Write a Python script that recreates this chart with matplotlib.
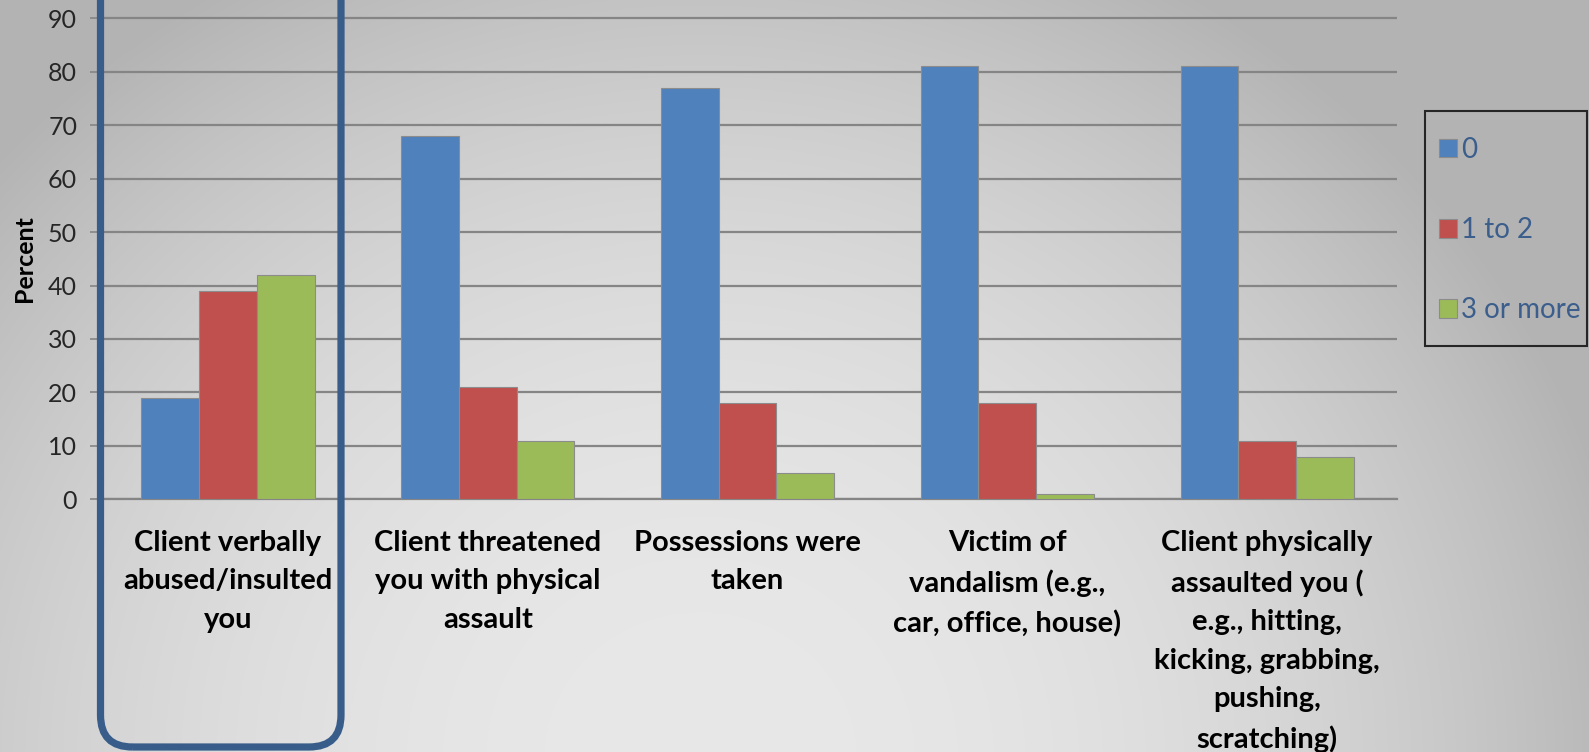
import numpy as np
import matplotlib
matplotlib.use("Agg")
import matplotlib.pyplot as plt
from matplotlib.patches import FancyBboxPatch, Rectangle
from matplotlib.transforms import IdentityTransform

plt.rcParams['font.family'] = ['Lato', 'DejaVu Sans']

# ---- data ----
categories = [
    "Client verbally\nabused/insulted\nyou",
    "Client threatened\nyou with physical\nassault",
    "Possessions were\ntaken",
    "Victim of\nvandalism (e.g.,\ncar, office, house)",
    "Client physically\nassaulted you (\ne.g., hitting,\nkicking, grabbing,\npushing,\nscratching)",
]
series_names = ["0", "1 to 2", "3 or more"]
vals_0 = [19, 68, 77, 81, 81]
vals_1to2 = [39, 21, 18, 18, 11]
vals_3plus = [42, 11, 5, 1, 8]
y_ticks = [0, 10, 20, 30, 40, 50, 60, 70, 80, 90]

colors = ["#4F81BD", "#C0504D", "#9BBB59"]

W, H = 1589, 752
fig = plt.figure(figsize=(W / 100, H / 100), dpi=100)

# ---- soft grey vignette background ----
yy, xx = np.mgrid[0:H, 0:W]
d = np.sqrt(((xx - 700) / 950.0) ** 2 + ((yy - 760) / 900.0) ** 2)
t = np.clip(d, 0, 1) ** 2.2
light, dark = 0xE8 / 255, 0xB3 / 255
g = light - (light - dark) * t
bg = np.dstack([g, g, g])
fig.figimage(bg, xo=0, yo=0, origin='upper', zorder=-10)

# ---- axes ----
ax_left, ax_right = 98 / W, 1397 / W
ax_bottom = (H - 499.3) / H
ax_height = 534.5 / H
ax = fig.add_axes([ax_left, ax_bottom, ax_right - ax_left, ax_height])
ax.set_facecolor('none')
ax.set_zorder(1)

x = np.arange(len(categories))
bw = 1 / 4.5
all_series = [vals_0, vals_1to2, vals_3plus]
handles = []
for i, (vals, c, name) in enumerate(zip(all_series, colors, series_names)):
    b = ax.bar(x + (i - 1) * bw, vals, width=bw, color=c, edgecolor='#8c8c8c',
               linewidth=0.8, label=name, zorder=3)
    handles.append(b)

ax.set_xlim(-0.5, len(categories) - 0.5)
ax.set_ylim(0, 100)
ax.set_yticks(y_ticks)
ax.yaxis.grid(True, color='#858585', linewidth=1.6, zorder=1)
ax.set_axisbelow(True)
for s in ['top', 'right', 'left']:
    ax.spines[s].set_visible(False)
ax.spines['bottom'].set_color('#858585')
ax.spines['bottom'].set_linewidth(1.6)
ax.tick_params(axis='y', length=6, width=1.2, color='#858585', pad=9,
               labelsize=18, labelcolor='#262626')
ax.tick_params(axis='x', length=0, pad=22)
ax.set_xticks(x)
ax.set_xticklabels(categories, fontsize=21, fontweight='bold', color='black',
                   linespacing=1.59, va='top', ha='center')
ax.set_ylabel('Percent', fontsize=18, fontweight='bold', color='black')
ax.yaxis.set_label_coords((36 - 98) / 1299, (499.3 - 259) / 534.5)

# ---- legend ----
frame = Rectangle((1425, H - 346), 162, 235, transform=IdentityTransform(),
                  facecolor='none', edgecolor='#262626', linewidth=1.5,
                  zorder=5)
fig.add_artist(frame)
leg = fig.legend(handles=handles, labels=series_names, loc='center left',
                 bbox_to_anchor=(1439 / W, 1 - 230 / H), frameon=False,
                 fontsize=20, handlelength=0.65, handleheight=0.65,
                 handletextpad=0.15, labelspacing=1.95, borderpad=0,
                 borderaxespad=0, labelcolor='#3B5E8C')

# ---- highlight around the first category ----
hl = FancyBboxPatch((100.5, 5), 341 - 100.5, 900,
                    boxstyle="round,pad=0,rounding_size=32",
                    transform=IdentityTransform(), facecolor='none',
                    edgecolor='#385D8A', linewidth=5.2, zorder=6, clip_on=False)
fig.add_artist(hl)

fig.savefig('out.png', dpi=100)
